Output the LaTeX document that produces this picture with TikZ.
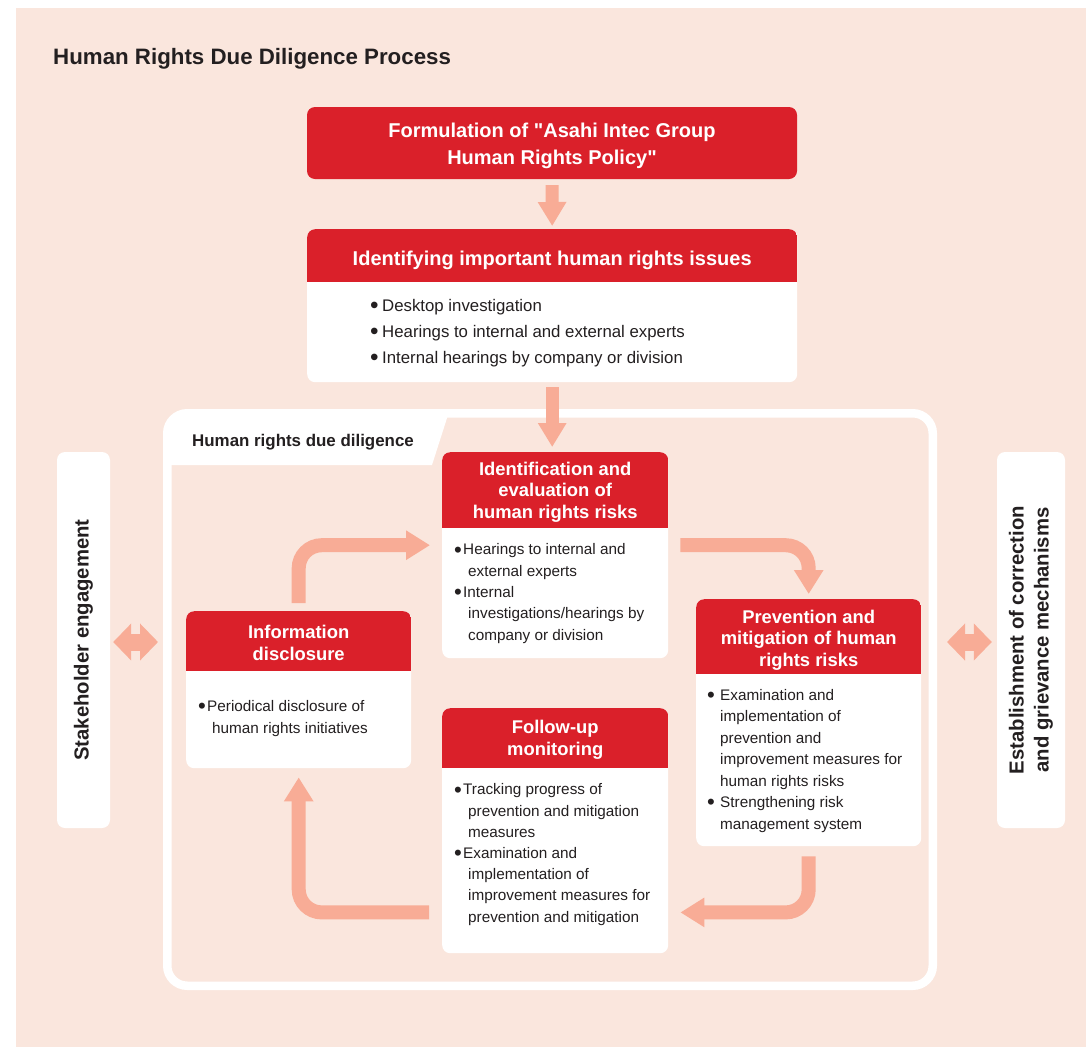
\documentclass[tikz,border=0pt]{standalone}
\usepackage{fontspec}
\setmainfont{Liberation Sans}
\usepackage{graphicx}
\usetikzlibrary{arrows.meta,positioning}

\definecolor{hrred}{RGB}{218,32,42}
\definecolor{hrpeach}{RGB}{250,230,221}
\definecolor{hrsalmon}{RGB}{248,172,150}
\definecolor{hrink}{RGB}{35,31,32}

\newcommand{\itm}[1][8pt]{\makebox[#1][l]{\raisebox{-2.2pt}{\scalebox{1.45}{\textbullet}}}}
\newcommand{\cont}[1][14pt]{\hspace*{#1}}

\begin{document}
\begin{tikzpicture}[x=1pt, y=-1pt,
  card/.style n args={3}{fill=white, rounded corners=8pt, inner sep=0pt, anchor=north west,
    minimum width=#1pt, minimum height=#2pt,
    path picture={\fill[hrred, sharp corners] (path picture bounding box.north west) rectangle ([yshift=-#3pt]path picture bounding box.north east);}},
  hdr/.style={text=white, font=\bfseries\fontsize{18.4}{21.5}\selectfont, align=center, inner sep=0pt},
  body/.style={text=hrink, font=\fontsize{15.3}{21.3}\selectfont, align=left, inner sep=0pt, anchor=base west},
  side/.style={fill=white, rounded corners=8pt, minimum height=376pt, inner sep=0pt},
  sidetxt/.style={text=hrink, rotate=90, font=\bfseries\fontsize{20.3}{25}\selectfont, align=center, inner sep=0pt},
  frame/.style={draw=white, line width=8.5pt, rounded corners=20pt, minimum width=765.5pt, minimum height=572.5pt, inner sep=0pt},
  flowarr/.style={draw=hrsalmon, line width=14pt, rounded corners=23pt, -{Triangle[width=28pt,length=24pt]}},
  downarr/.style={draw=hrsalmon, line width=13pt, -{Triangle[width=27pt,length=24pt]}},
  duoarr/.style={draw=hrsalmon, line width=17pt, {Triangle[width=36pt,length=18pt]}-{Triangle[width=36pt,length=18pt]}}
]
  % page and background
  \fill[white] (0,0) rectangle (1086,1047);
  \fill[hrpeach] (16,8) rectangle (1086,1047);
  \useasboundingbox (0,0) rectangle (1086,1047);

  \node[anchor=base west, inner sep=0pt, text=hrink, font=\bfseries\fontsize{22.3}{26}\selectfont] (title) at (53,64) {Human Rights Due Diligence Process};

  % policy and issues (top column)
  \node[fill=hrred, rounded corners=8pt, minimum width=490pt, minimum height=72pt, inner sep=0pt] (policy) at (552,143) {};
  \node[text=white, font=\bfseries\fontsize{20}{27}\selectfont, align=center, inner sep=0pt] (policy-t) at ([yshift=-3pt]policy.center) {Formulation of \textquotedbl Asahi Intec Group\\Human Rights Policy\textquotedbl};

  \node[card={490}{153}{53}] (issues) at (307,229) {};
  \node[hdr, font=\bfseries\fontsize{20}{24}\selectfont] (issues-h) at ([yshift=-31pt]issues.north) {Identifying important human rights issues};
  \node[body, font=\fontsize{16.8}{26}\selectfont] (issues-b) at ([xshift=63pt,yshift=-134pt]issues.north west)
    {\itm[12pt]Desktop investigation\\\itm[12pt]Hearings to internal and external experts\\\itm[12pt]Internal hearings by company or division};

  % due diligence frame with its tab
  \node[frame] (dd) at (550,699.5) {};
  \fill[white] (171,465) -- (171,420) -- (174,415) -- (448,415) -- (432,465) -- cycle;
  \node[anchor=base west, inner sep=0pt, text=hrink, font=\bfseries\fontsize{16.9}{20}\selectfont] (dd-label) at (192,446) {Human rights due diligence};

  % side boxes
  \node[side, minimum width=53pt] (stake) at (83.5,640) {};
  \node[sidetxt] (stake-t) at (stake.center) {Stakeholder engagement};
  \node[side, minimum width=68pt] (griev) at (1031,640) {};
  \node[sidetxt] (griev-t) at (griev.center) {Establishment of correction\\and grievance mechanisms};

  % cycle cards
  \node[card={226}{206}{76}] (risk) at (442,452) {};
  \node[hdr] (risk-h) at ([yshift=-40pt]risk.north) {Identification and\\evaluation of\\human rights risks};
  \node[body] (risk-b) at ([xshift=12pt,yshift=-188pt]risk.north west)
    {\itm[9pt]Hearings to internal and\\\cont external experts\\\itm[9pt]Internal\\\cont investigations/hearings by\\\cont company or division};

  \node[card={225}{247}{75}] (prevent) at (696,599) {};
  \node[hdr] (prevent-h) at ([yshift=-41pt]prevent.north) {Prevention and\\mitigation of human\\rights risks};
  \node[body, font=\fontsize{15.3}{21.5}\selectfont] (prevent-b) at ([xshift=11pt,yshift=-230pt]prevent.north west)
    {\itm[13pt]Examination and\\\cont[13pt]implementation of\\\cont[13pt]prevention and\\\cont[13pt]improvement measures for\\\cont[13pt]human rights risks\\\itm[13pt]Strengthening risk\\\cont[13pt]management system};

  \node[card={225}{157}{60}] (disclose) at (186,611) {};
  \node[hdr] (disclose-h) at ([yshift=-32pt]disclose.north) {Information\\disclosure};
  \node[body] (disclose-b) at ([xshift=12pt,yshift=-122pt]disclose.north west)
    {\itm[9pt]Periodical disclosure of\\\cont human rights initiatives};

  \node[card={226}{245}{60}] (follow) at (442,708) {};
  \node[hdr] (follow-h) at ([yshift=-32pt]follow.north) {Follow-up\\monitoring};
  \node[body, font=\fontsize{15.3}{21.2}\selectfont] (follow-b) at ([xshift=12pt,yshift=-214pt]follow.north west)
    {\itm[9pt]Tracking progress of\\\cont prevention and mitigation\\\cont measures\\\itm[9pt]Examination and\\\cont implementation of\\\cont improvement measures for\\\cont prevention and mitigation};

  % arrows
  \draw[downarr] ([yshift=-6pt]policy.south) -- ([yshift=3pt]issues.north);
  \draw[downarr] ([yshift=-5pt]issues.south) -- ([yshift=5pt]issues.south |- risk.north);

  \draw[flowarr] ([yshift=8pt]disclose.north) |- ([xshift=-12pt,yshift=10pt]risk.west);
  \draw[flowarr] ([xshift=12pt,yshift=10pt]risk.east) -| ([yshift=5pt]prevent.north);
  \draw[flowarr] ([yshift=-10pt]prevent.south) |- ([xshift=12pt,yshift=41pt]follow.south east);
  \draw[flowarr] ([xshift=-13pt,yshift=41pt]follow.south west) -| ([yshift=-9pt]disclose.south);

  \draw[duoarr] ([xshift=3pt,yshift=-2pt]stake.east) -- ([xshift=-5pt,yshift=-2pt]stake.east -| dd.west);
  \draw[duoarr] ([xshift=10pt,yshift=-2pt]dd.east |- griev.west) -- ([xshift=-5pt,yshift=-2pt]griev.west);
\end{tikzpicture}
\end{document}
